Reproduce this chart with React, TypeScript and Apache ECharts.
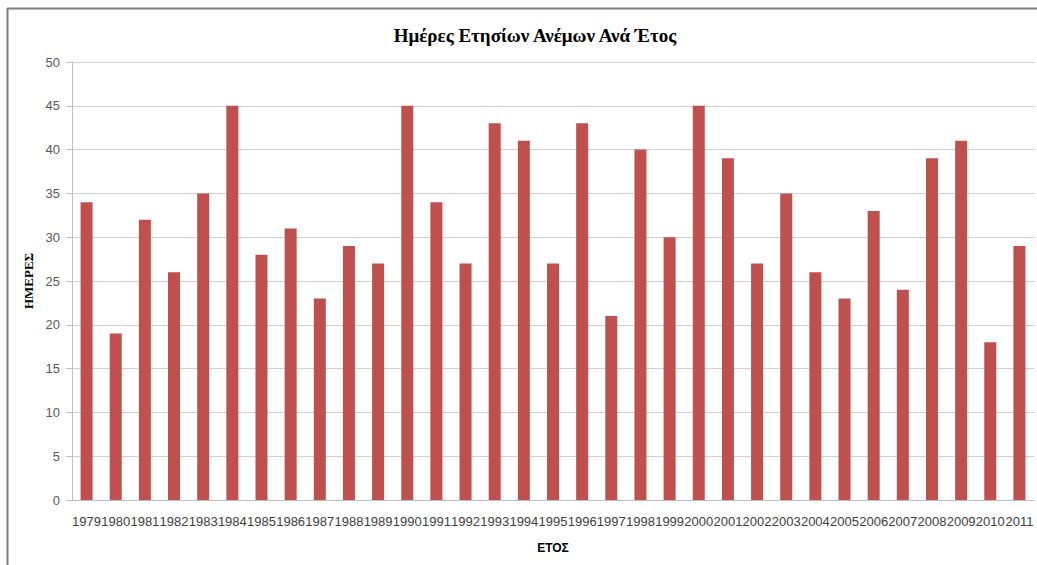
import React, { useEffect, useRef } from "react";
import * as echarts from "echarts";

const years = ["1979","1980","1981","1982","1983","1984","1985","1986","1987","1988","1989","1990","1991","1992","1993","1994","1995","1996","1997","1998","1999","2000","2001","2002","2003","2004","2005","2006","2007","2008","2009","2010","2011"];
const days = [34,19,32,26,35,45,28,31,23,29,27,45,34,27,43,41,27,43,21,40,30,45,39,27,35,26,23,33,24,39,41,18,29];

const titleText = "Ημέρες Ετησίων Ανέμων Ανά Έτος";
const yName = "ΗΜΕΡΕΣ";
const xName = "ΕΤΟΣ";

export default function App() {
  const ref = useRef<HTMLDivElement>(null);
  useEffect(() => {
    if (!ref.current) return;
    const chart = echarts.init(ref.current, null, { renderer: "svg" });
    chart.setOption({
      animation: false,
      backgroundColor: "#ffffff",
      title: {
        text: titleText,
        left: 530,
        textAlign: "center",
        top: 21,
        textStyle: {
          fontFamily: "Liberation Serif",
          fontWeight: "bold",
          fontSize: 19,
          color: "#000000",
        },
      },
      graphic: [
        { type: "line", shape: { x1: 7, y1: 8.5, x2: 1037, y2: 8.5 }, style: { stroke: "#7f7f7f", lineWidth: 2 } },
        { type: "line", shape: { x1: 7.5, y1: 8, x2: 7.5, y2: 565 }, style: { stroke: "#7f7f7f", lineWidth: 2 } },
      ],
      grid: { left: 72, right: 3, top: 62, bottom: 65, containLabel: false },
      xAxis: {
        type: "category",
        data: years,
        name: xName,
        nameLocation: "middle",
        nameGap: 42,
        nameTextStyle: { fontFamily: "Liberation Sans", fontWeight: "bold", fontSize: 12, color: "#000000" },
        axisLine: { show: true, lineStyle: { color: "#bfbfbf", width: 1 } },
        axisTick: { show: false },
        axisLabel: { interval: 0, margin: 15, fontFamily: "Liberation Sans", fontSize: 13, color: "#404040" },
      },
      yAxis: {
        type: "value",
        min: 0,
        max: 50,
        interval: 5,
        name: yName,
        nameLocation: "middle",
        nameGap: 36,
        nameRotate: 90,
        nameTextStyle: { fontFamily: "Liberation Serif", fontWeight: "bold", fontSize: 13, color: "#000000" },
        axisLine: { show: true, lineStyle: { color: "#bfbfbf", width: 1 } },
        axisTick: { show: true, inside: false, length: 6, lineStyle: { color: "#bfbfbf" } },
        axisLabel: { margin: 12, fontFamily: "Liberation Sans", fontSize: 13, color: "#595959" },
        splitLine: { show: true, lineStyle: { color: "#d0d0d0", width: 1 } },
      },
      series: [
        {
          type: "bar",
          data: days,
          barWidth: 12,
          itemStyle: { color: "#C0504D" },
        },
      ],
    });
    return () => chart.dispose();
  }, []);
  return <div ref={ref} style={{ position: "absolute", left: 0, top: 0, width: 1037, height: 565 }} />;
}
